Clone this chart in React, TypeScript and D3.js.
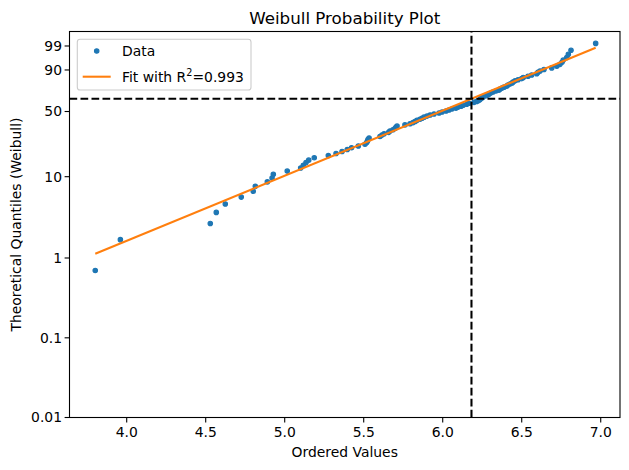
import React from "react";
import * as d3 from "d3";

// Ordered sample values (ascending), one per rank
const orderedValues = [
  3.801, 3.960, 4.529, 4.567, 4.624, 4.725, 4.801, 4.814, 4.890, 4.920,
  4.928, 5.016, 5.101, 5.118, 5.135, 5.152, 5.187, 5.276, 5.325, 5.363,
  5.396, 5.423, 5.466, 5.508, 5.519, 5.524, 5.527, 5.534, 5.603, 5.616,
  5.629, 5.658, 5.666, 5.685, 5.698, 5.704, 5.711, 5.761, 5.793, 5.812,
  5.825, 5.837, 5.856, 5.869, 5.882, 5.901, 5.920, 5.945, 5.977, 5.996,
  6.021, 6.040, 6.059, 6.084, 6.097, 6.116, 6.129, 6.152, 6.166, 6.198,
  6.215, 6.227, 6.236, 6.242, 6.249, 6.257, 6.274, 6.287, 6.293, 6.303,
  6.318, 6.337, 6.356, 6.363, 6.375, 6.388, 6.405, 6.413, 6.426, 6.439,
  6.445, 6.458, 6.477, 6.500, 6.510, 6.540, 6.563, 6.595, 6.603, 6.616,
  6.641, 6.690, 6.722, 6.742, 6.755, 6.763, 6.785, 6.795, 6.812, 6.968,
];

// Probability tick labels (percent)
const probTicks = [0.01, 0.1, 1, 10, 50, 90, 99];
const xTicks = [4.0, 4.5, 5.0, 5.5, 6.0, 6.5, 7.0];

// Fitted Weibull line: weibY = shape * (x - lnScale)
const fitShape = 1.88;
const fitLnScale = 6.182;
const fitR2 = "0.993";

const W = 629;
const H = 470;
const M = { left: 69.5, right: 620, top: 31.5, bottom: 417.5 };
const FONT = "'DejaVu Sans', sans-serif";
const BLUE = "#1f77b4";
const ORANGE = "#ff7f0e";

const weib = (p: number) => Math.log(-Math.log(1 - p));

export default function App() {
  const n = orderedValues.length;
  const points = orderedValues.map((v, i) => ({
    x: v,
    y: weib((i + 1 - 0.3) / (n + 0.4)),
  }));

  const x = d3.scaleLinear().domain([3.638, 7.122]).range([M.left, M.right]);
  const y = d3.scaleLinear().domain([weib(0.0001), 1.946]).range([M.bottom, M.top]);

  const xMin = d3.min(orderedValues) as number;
  const xMax = d3.max(orderedValues) as number;
  const fitLine = d3
    .line<number>()
    .x((d) => x(d))
    .y((d) => y(fitShape * (d - fitLnScale)));

  const dash = "7.7,3.3";
  const tickFont = 13.9;

  return (
    <svg width={W} height={H} style={{ position: "absolute", left: 0, top: 0 }} fontFamily={FONT}>
      <rect x={0} y={0} width={W} height={H} fill="white" />
      <defs>
        <clipPath id="plot">
          <rect x={M.left} y={M.top} width={M.right - M.left} height={M.bottom - M.top} />
        </clipPath>
      </defs>

      <g clipPath="url(#plot)">
        {points.map((p, i) => (
          <circle key={i} cx={x(p.x)} cy={y(p.y)} r={2.2} fill={BLUE} stroke={BLUE} strokeWidth={1.2} />
        ))}
        <path d={fitLine([xMin, xMax]) as string} fill="none" stroke={ORANGE} strokeWidth={2.08} />
        <line x1={M.left} x2={M.right} y1={y(0)} y2={y(0)} stroke="black" strokeWidth={2.08} strokeDasharray={dash} />
        <line x1={x(fitLnScale)} x2={x(fitLnScale)} y1={M.bottom} y2={M.top} stroke="black" strokeWidth={2.08} strokeDasharray={dash} />
      </g>

      {/* frame */}
      <rect x={M.left} y={M.top} width={M.right - M.left} height={M.bottom - M.top} fill="none" stroke="black" strokeWidth={1.1} />

      {/* x axis */}
      {xTicks.map((t) => (
        <g key={t} transform={`translate(${x(t)},${M.bottom})`}>
          <line y1={0} y2={4.9} stroke="black" strokeWidth={1.1} />
          <text y={19.5} textAnchor="middle" fontSize={tickFont} fill="black">{t.toFixed(1)}</text>
        </g>
      ))}
      <text x={(M.left + M.right) / 2} y={457} textAnchor="middle" fontSize={tickFont} fill="black">Ordered Values</text>

      {/* y axis */}
      {probTicks.map((t) => (
        <g key={t} transform={`translate(${M.left},${y(weib(t / 100))})`}>
          <line x1={0} x2={-4.9} stroke="black" strokeWidth={1.1} />
          <text x={-7.5} dy="0.35em" textAnchor="end" fontSize={tickFont} fill="black">{String(t)}</text>
        </g>
      ))}
      <text
        transform={`translate(21,${(M.top + M.bottom) / 2}) rotate(-90)`}
        textAnchor="middle"
        fontSize={tickFont}
        fill="black"
      >
        Theoretical Quantiles (Weibull)
      </text>

      {/* title */}
      <text x={(M.left + M.right) / 2} y={24} textAnchor="middle" fontSize={16.7} fill="black">Weibull Probability Plot</text>

      {/* legend */}
      <g>
        <rect x={77.3} y={39.3} width={173.7} height={50.7} rx={2.8} fill="white" fillOpacity={0.8} stroke="#cccccc" strokeWidth={1.1} />
        <circle cx={96.7} cy={51} r={2.2} fill={BLUE} stroke={BLUE} strokeWidth={1.2} />
        <text x={122} y={51} dy="0.35em" fontSize={tickFont} fill="black">Data</text>
        <line x1={82.7} x2={110.7} y1={76.7} y2={76.7} stroke={ORANGE} strokeWidth={2.08} />
        <text x={122} y={76.7} dy="0.35em" fontSize={tickFont} fill="black">
          Fit with R
          <tspan dy={-5.5} fontSize={9.7}>2</tspan>
          <tspan dy={5.5}>={fitR2}</tspan>
        </text>
      </g>
    </svg>
  );
}
